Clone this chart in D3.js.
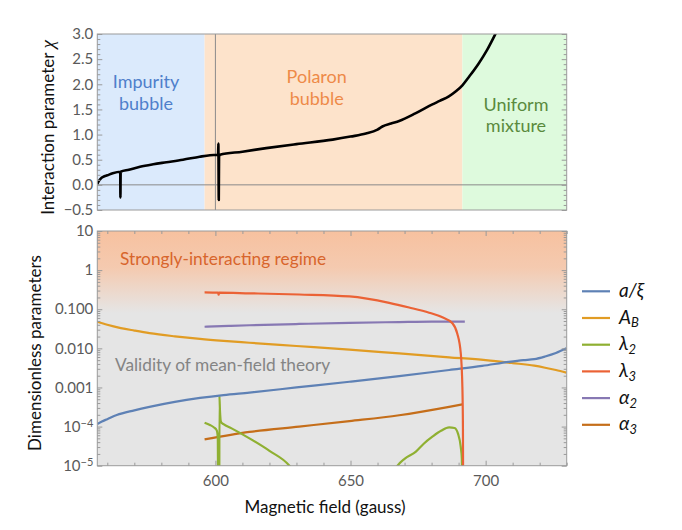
<!DOCTYPE html>
<html><head><meta charset="utf-8">
<script src="https://cdn.jsdelivr.net/npm/d3@7"></script>
<style>
body{margin:0;background:#fff}
svg{display:block}
text{font-family:Lato, "Open Sans", sans-serif}
</style>
</head><body>
<svg id="c" width="682" height="530"></svg>
<script>
// ---------------- DATA ----------------
const fieldDomain = [556.3, 730];
const chiDomain = [-0.5, 3.0];
const logDomain = [1e-5, 10];

// regions of the top panel (gauss)
const regionStart = [556.3, 596.0, 691.4];
const regionEnd   = [596.0, 691.4, 730];
const regionLine1 = ["Impurity", "Polaron", "Uniform"];
const regionLine2 = ["bubble", "bubble", "mixture"];

// interaction parameter chi(B)
const chiCurve = [
  [556.3,0.02],[556.8,0.07],[557.5,0.12],[558.5,0.16],[560,0.19],[562,0.23],[564.8,0.26],
  [564.85,-0.25],[564.95,0.26],[568,0.30],[572.1,0.36],[577,0.41],[581.9,0.45],[588,0.50],
  [594.2,0.56],[598,0.59],[601.0,0.60],[601.1,0.82],[601.25,-0.30],[601.35,0.56],[601.7,0.60],
  [610,0.66],[618.8,0.73],[630,0.81],[643.4,0.90],[650,0.96],[655.7,1.02],[660,1.10],[661.8,1.16],
  [665,1.22],[668,1.27],[674,1.42],[680.3,1.60],[683,1.67],[686.4,1.76],[689,1.86],[691.4,1.98],
  [694,2.16],[697.5,2.42],[700.5,2.68],[703.7,3.01]
];
const chiMarkerField = 600;

// dimensionless parameters (B, value); null = gap
const aOverXi = [[556.3,1.16e-4],[558,1.35e-4],[560,1.55e-4],[563.5,1.97e-4],[570,2.6e-4],[575.6,3.2e-4],[585,4.3e-4],
  [594.3,5.4e-4],[603,6.4e-4],[612.6,7.4e-4],[630,1.0e-3],[649.6,1.4e-3],[668,1.95e-3],[686.5,2.8e-3],
  [698.7,3.55e-3],[708.6,4.5e-3],[714,5.0e-3],[718,5.3e-3],[722,6.2e-3],[726,7.6e-3],[729.9,1.0e-2]];
const A_B = [[556.3,0.048],[560,0.040],[565,0.033],[570,0.0285],[575.6,0.0245],[585,0.0203],[594.3,0.0174],
  [603,0.0155],[612.6,0.0139],[630,0.0115],[649.6,0.0093],[668,0.0074],[686.5,0.0059],[700,0.0050],
  [710,0.0042],[718,0.0036],[722,0.0032],[726,0.0028],[729.9,0.0024]];
const lambda2 = [[596,1.26e-4],[598,1.1e-4],[599.5,9.5e-5],[600.5,8e-5],[600.9,5e-5],[601.05,1e-6],null,
  [601.45,1e-6],[601.5,6e-4],[601.7,2.5e-4],[602.1,1.3e-4],[603,1.15e-4],[606,9e-5],[612.6,5e-5],
  [620,2.4e-5],[627.4,1e-5],[628.5,8e-6],null,
  [666.5,8e-6],[667.4,1e-5],[670,1.5e-5],[674.2,2.3e-5],[677,3.6e-5],[680.3,5.5e-5],[683.5,7.8e-5],
  [686.5,9.5e-5],[688.5,9.2e-5],[689.8,6.5e-5],[690.8,3e-5],[691.2,1.5e-5],[691.4,1e-6]];
const lambda3 = [[596,0.27],[601.0,0.265],[601.2,0.235],[601.4,0.265],[612.6,0.255],[631,0.238],
  [649.6,0.212],[664.3,0.146],[671.7,0.111],[679.1,0.0815],[684,0.062],[687.7,0.044],[689.5,0.024],
  [690.8,0.0075],[691.4,1.0e-3],[691.6,1e-4],[691.7,1e-6]];
const alpha2 = [[596,0.0357],[605,0.0375],[612.6,0.039],[631,0.042],[649.6,0.045],[668,0.047],[680,0.048],[692.3,0.048]];
const alpha3 = [[596,4.7e-5],[612.6,7.3e-5],[631,1.0e-4],[649.6,1.38e-4],[668,1.95e-4],[686.5,3.2e-4],[691.4,3.7e-4]];

const seriesData = [aOverXi, A_B, lambda2, lambda3, alpha2, alpha3];
const seriesBase = ["a/ξ", "A", "λ", "λ", "α", "α"];
const seriesSub  = ["", "B", "2", "3", "2", "3"];
const seriesColor = ["#5e81b5", "#e19c24", "#8fb032", "#eb6235", "#8778b3", "#c56e1a"];
const drawOrder = [1, 4, 5, 2, 0, 3];

// ticks
const chiTicks = [-0.5, 0, 0.5, 1.0, 1.5, 2.0, 2.5, 3.0];
const fieldTicks = [600, 650, 700];
const fieldTickLabels = ["600", "650", "700"];
const logTicks = [10, 1, 0.1, 0.01, 0.001, 1e-4, 1e-5];
const logTickBase = ["10", "1", "0.100", "0.010", "0.001", "10", "10"];
const logTickExp  = ["", "", "", "", "", "−4", "−5"];

// ---------------- LAYOUT ----------------
const svg = d3.select("#c");
const L = 97.3, R = 566.7;
const topT = 34, topB = 210, botT = 231, botB = 465.7;
const frameColor = "#9a9a9a", tickText = "#5a5a5a";

const x = d3.scaleLinear().domain(fieldDomain).range([L, R]);
const yTop = d3.scaleLinear().domain(chiDomain).range([topB, topT]);
const yBot = d3.scaleLog().domain(logDomain).range([botB, botT]);

const defs = svg.append("defs");
defs.append("clipPath").attr("id","clipTop").append("rect")
  .attr("x",L).attr("y",topT).attr("width",R-L).attr("height",topB-topT);
defs.append("clipPath").attr("id","clipBot").append("rect")
  .attr("x",L).attr("y",botT).attr("width",R-L).attr("height",botB-botT);
const grad = defs.append("linearGradient").attr("id","strong")
  .attr("gradientUnits","userSpaceOnUse").attr("x1",0).attr("x2",0)
  .attr("y1",yBot(10)).attr("y2",yBot(0.08));
grad.append("stop").attr("offset","0%").attr("stop-color","#f7c19f").attr("stop-opacity",1);
grad.append("stop").attr("offset","45%").attr("stop-color","#f7c5a6").attr("stop-opacity",0.85);
grad.append("stop").attr("offset","100%").attr("stop-color","#f7c7a9").attr("stop-opacity",0);

// ---------------- TOP PANEL ----------------
const regionFill = ["#dbeafc", "#fde3cb", "#defadd"];
const regionText = ["#4f7fcb", "#ee8a48", "#5a8a3e"];
const gTop = svg.append("g");
gTop.selectAll("rect.reg").data(regionStart).join("rect")
  .attr("x",(d,i)=>x(d)).attr("y",topT)
  .attr("width",(d,i)=>x(regionEnd[i])-x(d)).attr("height",topB-topT)
  .attr("fill",(d,i)=>regionFill[i]);
const regionBase = [88, 83, 110.5];
const regionX = [146, 316.7, 516];
regionLine1.forEach((t,i)=>{
  gTop.append("text").attr("x",regionX[i]).attr("y",regionBase[i]).attr("text-anchor","middle")
    .attr("font-size",18).attr("fill",regionText[i]).text(t);
  gTop.append("text").attr("x",regionX[i]).attr("y",regionBase[i]+21.5).attr("text-anchor","middle")
    .attr("font-size",18).attr("fill",regionText[i]).text(regionLine2[i]);
});
// grid lines
gTop.append("line").attr("x1",L).attr("x2",R).attr("y1",yTop(0)).attr("y2",yTop(0))
  .attr("stroke","#8a8a8a").attr("stroke-width",1);
gTop.append("line").attr("x1",x(chiMarkerField)).attr("x2",x(chiMarkerField)).attr("y1",topT).attr("y2",topB)
  .attr("stroke","#8a8a8a").attr("stroke-width",1);
// curve
gTop.append("path").datum(chiCurve).attr("clip-path","url(#clipTop)")
  .attr("fill","none").attr("stroke","#000").attr("stroke-width",2.6).attr("stroke-linejoin","round")
  .attr("d", d3.line().curve(d3.curveMonotoneX).x(d=>x(d[0])).y(d=>yTop(d[1])));
// axes
const chiMinor = d3.range(-5, 31).map(v=>v/10).filter(v=>Math.abs(v*2-Math.round(v*2))>1e-6);
function styleAxis(g){ g.select(".domain").remove(); g.selectAll(".tick line").attr("stroke",frameColor);
  g.selectAll("text").attr("fill",tickText).attr("font-size",15).attr("font-family","Lato, sans-serif"); }
svg.append("g").attr("transform",`translate(${L},0)`)
  .call(d3.axisLeft(yTop).tickValues(chiTicks).tickSize(-5).tickPadding(4).tickFormat(d3.format(".1f"))).call(styleAxis);
svg.append("g").attr("transform",`translate(${L},0)`)
  .call(d3.axisLeft(yTop).tickValues(chiMinor).tickSize(-3).tickFormat("")).call(styleAxis);
svg.append("g").attr("transform",`translate(${R},0)`)
  .call(d3.axisRight(yTop).tickValues(chiTicks).tickSize(-5).tickFormat("")).call(styleAxis);
svg.append("g").attr("transform",`translate(${R},0)`)
  .call(d3.axisRight(yTop).tickValues(chiMinor).tickSize(-3).tickFormat("")).call(styleAxis);
svg.append("rect").attr("x",L).attr("y",topT).attr("width",R-L).attr("height",topB-topT)
  .attr("fill","none").attr("stroke",frameColor).attr("stroke-width",1);

// ---------------- BOTTOM PANEL ----------------
const gBot = svg.append("g");
gBot.append("rect").attr("x",L).attr("y",botT).attr("width",R-L).attr("height",botB-botT).attr("fill","#e5e5e5");
gBot.append("rect").attr("x",L).attr("y",botT).attr("width",R-L).attr("height",yBot(0.08)-botT).attr("fill","url(#strong)");
gBot.append("text").attr("x",120).attr("y",265).attr("font-size",17.3).attr("fill","#d8652c").text("Strongly-interacting regime");
gBot.append("text").attr("x",115).attr("y",370.7).attr("font-size",17.3).attr("fill","#848484").text("Validity of mean-field theory");

const lineGen = d3.line().defined(d=>d!==null).curve(d3.curveMonotoneX).x(d=>x(d[0])).y(d=>yBot(d[1]));
const gLines = gBot.append("g").attr("clip-path","url(#clipBot)");
drawOrder.forEach(i=>{
  gLines.append("path").datum(seriesData[i]).attr("fill","none")
    .attr("stroke",seriesColor[i]).attr("stroke-width",2.2).attr("stroke-linejoin","round")
    .attr("d", lineGen);
});

// log ticks
const logMinor = [];
for (let e=-5; e<1; e++) for (let k=2; k<10; k++) logMinor.push(k*Math.pow(10,e));
svg.append("g").attr("transform",`translate(${L},0)`)
  .call(d3.axisLeft(yBot).tickValues(logTicks).tickSize(-5).tickFormat("")).call(styleAxis);
svg.append("g").attr("transform",`translate(${L},0)`)
  .call(d3.axisLeft(yBot).tickValues(logMinor).tickSize(-3).tickFormat("")).call(styleAxis);
svg.append("g").attr("transform",`translate(${R},0)`)
  .call(d3.axisRight(yBot).tickValues(logTicks).tickSize(-5).tickFormat("")).call(styleAxis);
svg.append("g").attr("transform",`translate(${R},0)`)
  .call(d3.axisRight(yBot).tickValues(logMinor).tickSize(-3).tickFormat("")).call(styleAxis);
logTicks.forEach((v,i)=>{
  const t = svg.append("text").attr("x",L-4).attr("y",yBot(v)).attr("dy","0.35em")
    .attr("text-anchor","end").attr("font-size",15).attr("fill",tickText);
  t.append("tspan").text(logTickBase[i]);
  if (logTickExp[i]) t.append("tspan").attr("dy","-0.45em").attr("font-size",11).text(logTickExp[i]);
});
// field ticks
const fieldMinor = d3.range(560, 731, 10).filter(v=>v%50!==0);
svg.append("g").attr("transform",`translate(0,${botB})`)
  .call(d3.axisBottom(x).tickValues(fieldTicks).tickSize(-5).tickPadding(10)
    .tickFormat((d,i)=>fieldTickLabels[i])).call(styleAxis);
svg.append("g").attr("transform",`translate(0,${botB})`)
  .call(d3.axisBottom(x).tickValues(fieldMinor).tickSize(-3).tickFormat("")).call(styleAxis);
svg.append("g").attr("transform",`translate(0,${botT})`)
  .call(d3.axisTop(x).tickValues(fieldTicks).tickSize(-5).tickFormat("")).call(styleAxis);
svg.append("g").attr("transform",`translate(0,${botT})`)
  .call(d3.axisTop(x).tickValues(fieldMinor).tickSize(-3).tickFormat("")).call(styleAxis);
svg.append("rect").attr("x",L).attr("y",botT).attr("width",R-L).attr("height",botB-botT)
  .attr("fill","none").attr("stroke",frameColor).attr("stroke-width",1);

// ---------------- AXIS TITLES ----------------
const t1 = svg.append("text").attr("transform","translate(54,127.5) rotate(-90)")
  .attr("text-anchor","middle").attr("font-size",17).attr("fill","#111");
t1.append("tspan").text("Interaction parameter ");
t1.append("tspan").attr("font-family","'Liberation Serif', serif").attr("font-style","italic").attr("font-size",19).text("χ");
svg.append("text").attr("transform","translate(41,353) rotate(-90)")
  .attr("text-anchor","middle").attr("font-size",17).attr("fill","#111").text("Dimensionless parameters");
svg.append("text").attr("x",325).attr("y",513).attr("text-anchor","middle")
  .attr("font-size",17).attr("fill","#111").text("Magnetic field (gauss)");

// ---------------- LEGEND ----------------
const legY0 = 291.3, legDy = 26.7;
seriesBase.forEach((b,i)=>{
  const yy = legY0 + i*legDy;
  svg.append("line").attr("x1",582).attr("x2",610).attr("y1",yy).attr("y2",yy)
    .attr("stroke",seriesColor[i]).attr("stroke-width",2.2);
  const t = svg.append("text").attr("x",619).attr("y",yy+5.5)
    .attr("font-family","'Liberation Serif', 'DejaVu Serif', serif").attr("font-style","italic")
    .attr("font-size",19).attr("fill","#111");
  t.append("tspan").text(b);
  if (seriesSub[i]) t.append("tspan").attr("dy","0.3em").attr("font-size",13).text(seriesSub[i]);
});
</script>
</body></html>
